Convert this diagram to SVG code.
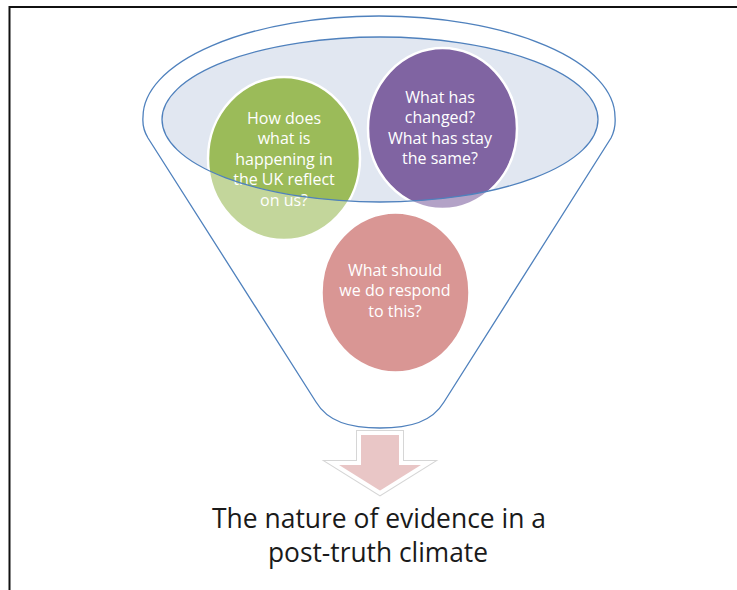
<svg xmlns="http://www.w3.org/2000/svg" width="737" height="590" viewBox="0 0 737 590">
<defs>
<style>
.ct{font-family:"Open Sans","Liberation Sans",sans-serif;font-size:16px;fill:#ffffff;text-anchor:middle}
.circ{stroke:#ffffff;stroke-width:2.5}
.fun{fill:none;stroke:#4f81bd;stroke-width:1.3}
.title{font-family:"Open Sans","Liberation Sans",sans-serif;font-size:27px;fill:#1a1a1a;text-anchor:middle}
</style>
<path id="funnelShape" d="M143,117 A236 101 0 0 1 615,117 Q616,128 611,138 L444,402 C432,422 410,428 380,428 C350,428 328,422 316,402 L148,138 Q142,128 143,117 Z"/>
</defs>
<rect x="9.5" y="7" width="740" height="600" fill="#ffffff" stroke="#111111" stroke-width="2"/>
<g id="funnel">
<use href="#funnelShape" fill="#ffffff"/>
<ellipse cx="380" cy="119.5" rx="218" ry="82.5" fill="#e1e7f1"/>
</g>
<g id="node-green">
<ellipse class="circ" cx="284" cy="158.5" rx="76" ry="81.5" fill="#9bbb59"/>
<text class="ct"><tspan x="284" y="123.5">How does</tspan><tspan x="284" y="144">what is</tspan><tspan x="284" y="164.5">happening in</tspan><tspan x="284" y="185">the UK reflect</tspan><tspan x="284" y="205.5">on us?</tspan></text>
</g>
<g id="node-purple">
<ellipse class="circ" cx="442.5" cy="128.5" rx="74.5" ry="80.5" fill="#8064a2"/>
<text class="ct"><tspan x="440" y="102.5">What has</tspan><tspan x="440" y="123">changed?</tspan><tspan x="440" y="143.5">What has stay</tspan><tspan x="440" y="164">the same?</tspan></text>
</g>
<g id="node-red">
<ellipse class="circ" cx="395.5" cy="292.5" rx="74" ry="80" fill="#c0504d"/>
<text class="ct"><tspan x="395" y="275.5">What should</tspan><tspan x="395" y="296">we do respond</tspan><tspan x="395" y="316.5">to this?</tspan></text>
</g>
<g id="funnel-overlay">
<path fill="#ffffff" fill-opacity="0.4" fill-rule="evenodd" d="M143,117 A236 101 0 0 1 615,117 Q616,128 611,138 L444,402 C432,422 410,428 380,428 C350,428 328,422 316,402 L148,138 Q142,128 143,117 Z M162,119.5 A218 82.5 0 0 0 598,119.5 A218 82.5 0 0 0 162,119.5 Z"/>
<use href="#funnelShape" class="fun"/>
<ellipse class="fun" cx="380" cy="119.5" rx="218" ry="82.5"/>
</g>
<g id="connectors">
<polygon points="359,433 401,433 401,463 428,463 380,493 332,463 359,463" fill="none" stroke="#d6d6d6" stroke-width="6" stroke-linejoin="miter"/>
<polygon points="359,433 401,433 401,463 428,463 380,493 332,463 359,463" fill="#e9c6c6" stroke="#ffffff" stroke-width="4" stroke-linejoin="miter"/>
</g>
<g id="node-title">
<text class="title" x="379" y="528" textLength="334" lengthAdjust="spacingAndGlyphs">The nature of evidence in a</text>
<text class="title" x="378" y="562" textLength="220" lengthAdjust="spacingAndGlyphs">post-truth climate</text>
</g>
</svg>
